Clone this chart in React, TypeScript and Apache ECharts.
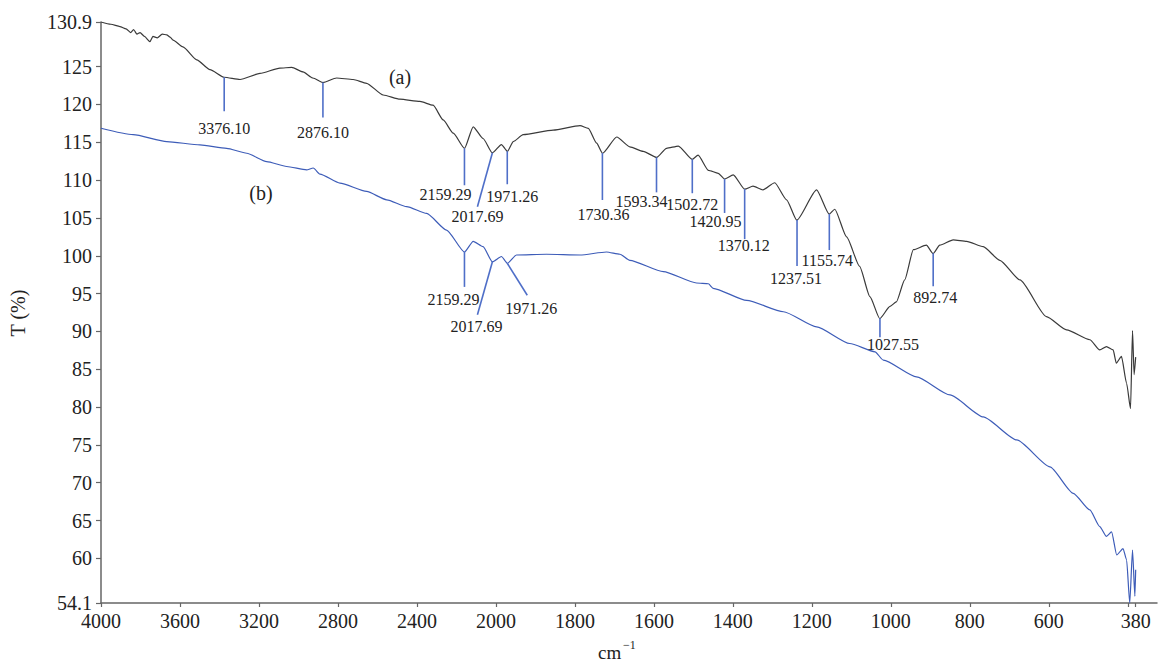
import React, { useEffect, useRef } from "react";
import * as echarts from "echarts";

// ---- Data (wavenumber cm^-1, transmittance %) ----
const curveA: [number, number][] = [
  [4000, 130.9], [3950, 130.6], [3904, 130.3], [3873, 130.0], [3850, 129.5], [3835, 129.9], [3818, 129.3],
  [3802, 129.5], [3780, 129.0], [3752, 128.3], [3737, 129.0], [3715, 128.8], [3690, 129.3], [3667, 129.2],
  [3650, 128.9], [3635, 128.5], [3585, 127.6], [3515, 125.9], [3448, 124.6], [3376, 123.6], [3296, 123.3],
  [3195, 124.1], [3094, 124.8], [3034, 124.9], [2977, 124.3], [2927, 123.5], [2876, 122.9], [2807, 123.5],
  [2723, 123.3], [2655, 122.8], [2571, 121.25], [2486, 120.7], [2385, 120.4], [2318, 119.9], [2267, 117.95],
  [2216, 116.2], [2159, 114.2], [2115, 117.05], [2065, 115.5], [2018, 113.6], [1986, 114.7], [1971, 113.8],
  [1956, 115.1], [1931, 116.0], [1855, 116.6], [1787, 117.2], [1766, 116.85], [1745, 114.9], [1730, 113.55],
  [1694, 115.7], [1661, 114.4], [1627, 113.8], [1593, 113.0], [1568, 114.2], [1538, 114.5], [1503, 112.75],
  [1488, 113.3], [1462, 111.3], [1437, 110.9], [1421, 110.15], [1399, 110.7], [1370, 108.8], [1349, 109.2],
  [1324, 108.7], [1294, 109.65], [1264, 107.4], [1238, 104.7], [1188, 108.7], [1156, 105.5], [1142, 106.15],
  [1112, 102.5], [1079, 98.6], [1053, 94.6], [1028, 91.7], [1002, 93.3], [986, 93.9], [965, 96.8],
  [943, 100.8], [910, 101.4], [893, 100.3], [876, 101.4], [842, 102.1], [808, 101.9], [766, 101.2],
  [724, 99.4], [673, 96.8], [606, 91.95], [555, 90.2], [496, 88.9], [471, 87.55], [454, 88.0], [437, 87.55],
  [429, 85.8], [416, 86.7], [403, 83.15], [393, 79.8], [388, 90.1], [384, 84.3], [380, 86.6],
];

const curveB: [number, number][] = [
  [4000, 116.85], [3837, 116.0], [3667, 115.1], [3499, 114.65], [3364, 114.2], [3262, 113.55], [3161, 112.45],
  [3060, 111.8], [2959, 111.35], [2925, 111.6], [2891, 110.8], [2790, 109.6], [2655, 108.5], [2553, 107.4],
  [2452, 106.5], [2351, 105.6], [2250, 103.4], [2159, 100.5], [2115, 101.9], [2065, 101.2], [2018, 99.2],
  [1986, 99.9], [1971, 99.0], [1948, 100.1], [1872, 100.2], [1787, 100.1], [1720, 100.5], [1686, 100.2],
  [1661, 99.4], [1576, 97.9], [1492, 96.4], [1462, 96.3], [1450, 95.7], [1365, 94.1], [1272, 92.6],
  [1188, 90.6], [1104, 88.4], [1040, 87.3], [1019, 86.2], [935, 84.0], [850, 81.6], [766, 78.7],
  [681, 75.65], [597, 72.1], [538, 68.6], [496, 66.4], [471, 64.2], [454, 62.9], [441, 63.5], [428, 60.45],
  [412, 61.3], [403, 59.8], [395, 54.1], [388, 61.1], [382, 55.0], [380, 58.5],
];

const peaksA = [3376.1, 2876.1, 2159.29, 2017.69, 1971.26, 1730.36, 1593.34, 1502.72, 1420.95, 1370.12, 1237.51, 1155.74, 1027.55, 892.74];
const peaksB = [2159.29, 2017.69, 1971.26];

const xTickWaves = [4000, 3600, 3200, 2800, 2400, 2000, 1800, 1600, 1400, 1200, 1000, 800, 600, 380];
const xMinorTickWaves = [400];
const yTicks = [54.1, 60, 65, 70, 75, 80, 85, 90, 95, 100, 105, 110, 115, 120, 125, 130.9];

// ---- Layout (pixel offsets of annotation line end and label centre, relative to the peak tip) ----
const peakLayoutA: number[][] = [
  [0, 34, 0, 51], [0, 35, 0, 50], [0, 37, -19, 46], [-15, 54, -15, 64], [0, 33, 5, 45],
  [0, 47, 1, 61], [0, 35, -15, 44], [0, 34, 0, 45], [0, 34, -9, 43], [0, 50, -1, 56],
  [0, 46, -1, 59], [0, 36, -2, 46], [0, 19, 13, 26], [0, 33, 2, 44],
];
const peakLayoutB: number[][] = [
  [0, 35, -11, 48], [-15, 53, -16, 65], [20, 32, 24, 45],
];

const SERIF = "'Liberation Serif', 'Times New Roman', serif";
const COLOR_A = "#3a3a3a";
const COLOR_B = "#3d5cb8";
const COLOR_MARK = "#4f6fc8";

// piecewise-linear wavenumber axis (scale doubles below 2000 cm^-1)
const toU = (w: number) => (w >= 2000 ? (4000 - w) / 400 : 5 + (2000 - w) / 200);
const fromU = (u: number) => (u <= 5 ? 4000 - 400 * u : 2000 - 200 * (u - 5));

const interp = (curve: [number, number][], w: number) => {
  for (let i = 0; i < curve.length - 1; i++) {
    const [w0, t0] = curve[i];
    const [w1, t1] = curve[i + 1];
    if (w <= w0 && w >= w1) {
      const f = w0 === w1 ? 0 : (w0 - w) / (w0 - w1);
      return t0 + f * (t1 - t0);
    }
  }
  return curve[curve.length - 1][1];
};

const makePeakSeries = (curve: [number, number][], peaks: number[], layout: number[][]) => ({
  type: "custom",
  coordinateSystem: "cartesian2d",
  silent: true,
  clip: false,
  z: 5,
  data: peaks.map((p) => [toU(p), interp(curve, p)]),
  renderItem: (params: any, api: any) => {
    const idx = params.dataIndex;
    const pt = api.coord([api.value(0), api.value(1)]);
    const [dx, dy, lx, ly] = layout[idx];
    return {
      type: "group",
      children: [
        {
          type: "line",
          shape: { x1: pt[0], y1: pt[1], x2: pt[0] + dx, y2: pt[1] + dy },
          style: { stroke: COLOR_MARK, lineWidth: 1.6 },
        },
        {
          type: "text",
          x: pt[0] + lx,
          y: pt[1] + ly,
          style: {
            text: peaks[idx].toFixed(2),
            fill: "#222",
            fontSize: 16,
            fontFamily: SERIF,
            align: "center",
            verticalAlign: "middle",
          },
        },
      ],
    };
  },
});

export default function App() {
  const ref = useRef<HTMLDivElement>(null);
  useEffect(() => {
    if (!ref.current) return;
    const chart = echarts.init(ref.current, undefined, { renderer: "svg" });
    const xTickU = xTickWaves.map(toU);
    const option: any = {
      animation: false,
      backgroundColor: "#fff",
      grid: { left: 101, right: 1, top: 22, bottom: 60, containLabel: false },
      xAxis: {
        type: "value",
        min: 0,
        max: 13.37,
        axisLine: { show: true, lineStyle: { color: "#666", width: 1.5 } },
        axisTick: {
          show: true,
          length: 4,
          lineStyle: { color: "#666", width: 1.2 },
          customValues: xTickU.concat(xMinorTickWaves.map(toU)),
        },
        axisLabel: {
          customValues: xTickU,
          margin: 8,
          fontSize: 20,
          fontFamily: SERIF,
          color: "#222",
          formatter: (v: number) => String(Math.round(fromU(v))),
        },
        splitLine: { show: false },
      },
      yAxis: {
        type: "value",
        min: 54.1,
        max: 130.9,
        axisLine: { show: true, lineStyle: { color: "#666", width: 1.5 } },
        axisTick: {
          show: true,
          length: 5,
          lineStyle: { color: "#666", width: 1.2 },
          customValues: yTicks,
        },
        axisLabel: {
          customValues: yTicks,
          margin: 9,
          fontSize: 20,
          fontFamily: SERIF,
          color: "#222",
          formatter: (v: number) => String(v),
        },
        splitLine: { show: false },
      },
      graphic: [
        {
          type: "text",
          x: 18,
          y: 313,
          rotation: Math.PI / 2,
          style: { text: "T (%)", fontSize: 20, fontFamily: SERIF, fill: "#222", align: "center", verticalAlign: "middle" },
        },
        {
          type: "text",
          x: 598,
          y: 652,
          style: { text: "cm", fontSize: 19, fontFamily: SERIF, fill: "#222", align: "left", verticalAlign: "middle" },
        },
        {
          type: "text",
          x: 623,
          y: 645,
          style: { text: "\u22121", fontSize: 12, fontFamily: SERIF, fill: "#222", align: "left", verticalAlign: "middle" },
        },
        {
          type: "text",
          x: 400,
          y: 77,
          style: { text: "(a)", fontSize: 20, fontFamily: SERIF, fill: "#222", align: "center", verticalAlign: "middle" },
        },
        {
          type: "text",
          x: 261,
          y: 193,
          style: { text: "(b)", fontSize: 20, fontFamily: SERIF, fill: "#222", align: "center", verticalAlign: "middle" },
        },
      ],
      series: [
        {
          type: "line",
          name: "a",
          data: curveA.map(([w, t]) => [toU(w), t]),
          showSymbol: false,
          symbol: "none",
          smooth: 0.2,
          smoothMonotone: "x",
          lineStyle: { color: COLOR_A, width: 1.2 },
          z: 3,
        },
        {
          type: "line",
          name: "b",
          data: curveB.map(([w, t]) => [toU(w), t]),
          showSymbol: false,
          symbol: "none",
          smooth: 0.2,
          smoothMonotone: "x",
          lineStyle: { color: COLOR_B, width: 1.2 },
          z: 3,
        },
        makePeakSeries(curveA, peaksA, peakLayoutA),
        makePeakSeries(curveB, peaksB, peakLayoutB),
      ],
    };
    chart.setOption(option);
    return () => chart.dispose();
  }, []);
  return <div ref={ref} style={{ position: "absolute", left: 0, top: 0, width: 1158, height: 663 }} />;
}
